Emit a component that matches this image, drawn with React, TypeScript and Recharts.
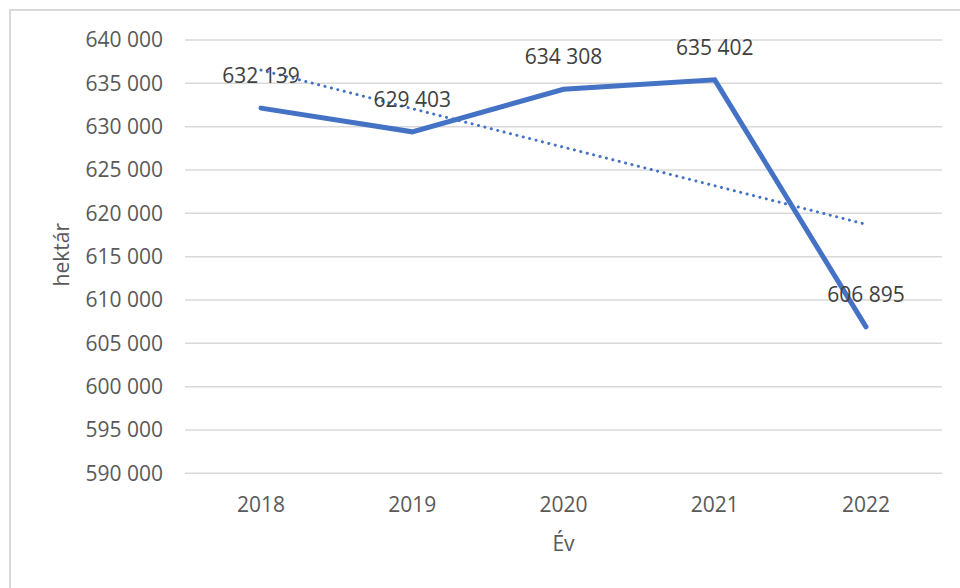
import React from 'react';
import { LineChart, Line, XAxis, YAxis, CartesianGrid, LabelList } from 'recharts';

// Yearly area in hectares
const years = ['2018', '2019', '2020', '2021', '2022'];
const hectares = [632139, 629403, 634308, 635402, 606895];

// Linear trendline end values (first and last year)
const trendEnds = [636527, 618732];

const yTicks = [590000, 595000, 600000, 605000, 610000, 615000, 620000, 625000, 630000, 635000, 640000];

const data = years.map((year, i) => ({
  year,
  value: hectares[i],
  trend: i === 0 ? trendEnds[0] : i === years.length - 1 ? trendEnds[1] : null,
}));

const FONT = '"Open Sans", "Noto Sans", sans-serif';
const BLUE = '#4472C4';

const fmt = (v: number) => String(Math.round(v)).replace(/\B(?=(\d{3})+(?!\d))/g, ' ');

const ValueLabel = (props: any) => {
  const { x, y, value } = props;
  return (
    <text
      x={x}
      y={y - 33}
      textAnchor="middle"
      dominantBaseline="central"
      fill="#404040"
      fontSize={21}
      fontFamily={FONT}
    >
      {fmt(value)}
    </text>
  );
};

export default function App() {
  return (
    <div style={{ position: 'absolute', left: 0, top: 0, width: 960, height: 588, overflow: 'hidden', background: '#fff' }}>
      <div
        style={{
          position: 'absolute',
          left: 9,
          top: 9,
          width: 980,
          height: 600,
          border: '2px solid #d9d9d9',
          boxSizing: 'border-box',
        }}
      />
      <div style={{ position: 'absolute', left: 0, top: 0 }}>
        <LineChart width={960} height={588} data={data} margin={{ top: 40, right: 18, left: 0, bottom: 0 }}>
          <CartesianGrid vertical={false} stroke="#d9d9d9" strokeWidth={1.5} />
          <XAxis
            dataKey="year"
            height={114.7}
            padding={{ left: 76, right: 76 }}
            axisLine={false}
            tickLine={false}
            tickSize={0}
            tickMargin={24}
            tick={{ fill: '#595959', fontSize: 21, fontFamily: FONT }}
            label={(p: any) => {
              const vb = p.viewBox;
              return (
                <text
                  x={vb.x + vb.width / 2}
                  y={vb.y + 70}
                  textAnchor="middle"
                  dominantBaseline="central"
                  fill="#595959"
                  fontSize={21}
                  fontFamily={FONT}
                >
                  Év
                </text>
              );
            }}
          />
          <YAxis
            width={185}
            domain={[590000, 640000]}
            ticks={yTicks}
            interval={0}
            axisLine={false}
            tickLine={false}
            tickSize={0}
            tickMargin={22}
            tickFormatter={fmt}
            tick={{ fill: '#595959', fontSize: 21, fontFamily: FONT }}
            label={(p: any) => {
              const vb = p.viewBox;
              const cx = vb.x + 61;
              const cy = vb.y + vb.height / 2 - 2;
              return (
                <text
                  x={cx}
                  y={cy}
                  transform={`rotate(-90 ${cx} ${cy})`}
                  textAnchor="middle"
                  dominantBaseline="central"
                  fill="#595959"
                  fontSize={21}
                  fontFamily={FONT}
                >
                  hektár
                </text>
              );
            }}
          />
          <Line
            type="linear"
            dataKey="value"
            stroke={BLUE}
            strokeWidth={5}
            strokeLinecap="round"
            dot={false}
            activeDot={false}
            isAnimationActive={false}
          >
            <LabelList dataKey="value" content={ValueLabel} />
          </Line>
          <Line
            type="linear"
            dataKey="trend"
            stroke={BLUE}
            strokeWidth={3}
            strokeDasharray="0.1 6.5"
            strokeLinecap="round"
            connectNulls
            dot={false}
            activeDot={false}
            isAnimationActive={false}
          />
        </LineChart>
      </div>
    </div>
  );
}
